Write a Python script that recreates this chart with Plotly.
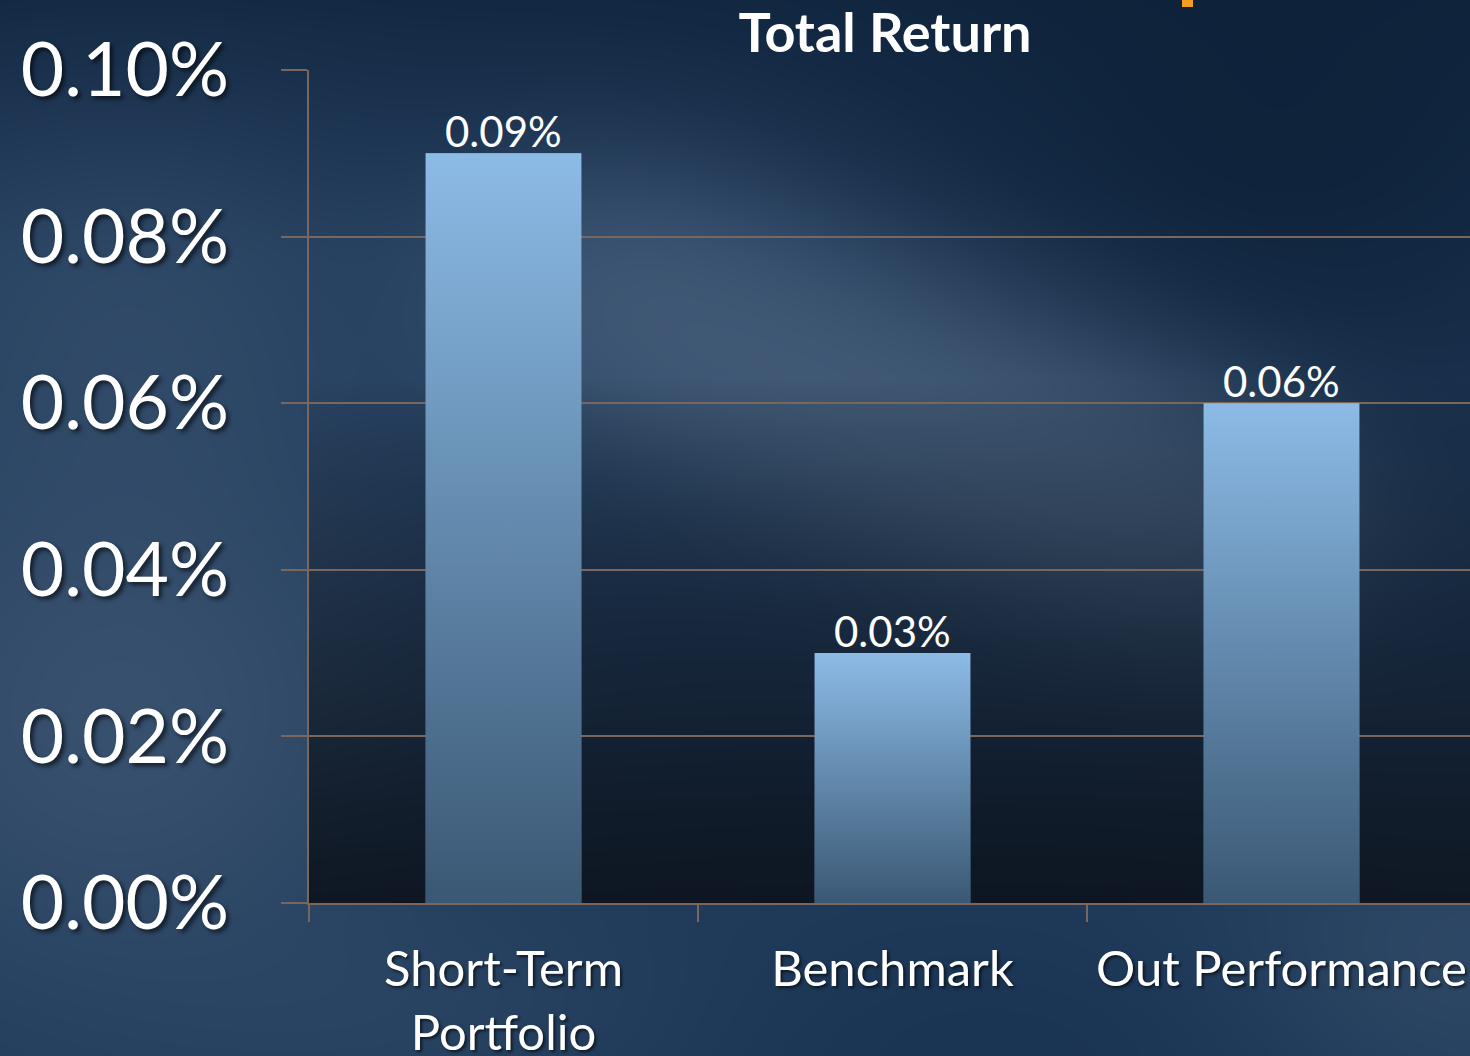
import base64, struct, zlib
import numpy as np
import plotly.graph_objects as go

# ---------------- data ----------------
categories = ["Short-Term<br>Portfolio", "Benchmark", "Out Performance"]
values = [0.09, 0.03, 0.06]          # percent
y_ticks = [0.00, 0.02, 0.04, 0.06, 0.08, 0.10]
y_tick_labels = [f"{v:.2f}%" for v in y_ticks]
title_text = "Total Return"

# ---------------- layout constants ----------------
W, H = 1470, 1056
L, T, B, R = 309, 70, 153, 0
PW, PH = W - L - R, H - T - B
CAT_PX = 389.0                       # pixel width of one category slot
X_RANGE = [-0.5, -0.5 + PW / CAT_PX]
BARGAP = 0.6
HALF_W = (1 - BARGAP) / 2

FONT = "Lato"
GRID = "#7a665c"


# ---------------- background image ----------------
def make_png(arr):
    h, w, _ = arr.shape
    raw = b"".join(b"\x00" + arr[r].tobytes() for r in range(h))

    def chunk(tag, data):
        c = struct.pack(">I", len(data)) + tag + data
        return c + struct.pack(">I", zlib.crc32(tag + data) & 0xFFFFFFFF)

    return (b"\x89PNG\r\n\x1a\n"
            + chunk(b"IHDR", struct.pack(">IIBBBBB", w, h, 8, 2, 0, 0, 0))
            + chunk(b"IDAT", zlib.compress(raw, 9))
            + chunk(b"IEND", b""))


S = 2
w, h = W // S, H // S
X, Y = np.meshgrid((np.arange(w) + 0.5) * S, (np.arange(h) + 0.5) * S)
img = np.zeros((h, w, 3)) + np.array([33, 60, 92], float)


def mix(weight, color):
    global img
    wgt = np.clip(weight, 0, 1)[..., None]
    img = img * (1 - wgt) + np.array(color, float) * wgt


def g(cx, cy, sx, sy):
    return np.exp(-((X - cx) ** 2 / (2 * sx ** 2) + (Y - cy) ** 2 / (2 * sy ** 2)))


dark = (10, 28, 50)
light = (70, 94, 122)
mix(np.clip(1 - Y / 260, 0, 1) * 0.6, dark)
mix(0.7 * g(1280, 180, 320, 220), dark)
for t in np.linspace(0, 1, 9):
    mix(0.5 * g(580 + t * 650, 290 + t * 250, 110, 95), light)
mix(0.6 * g(120, 720, 210, 190), light)
mix(0.35 * g(130, 330, 160, 160), light)
mix(0.45 * g(1000, 1060, 320, 110), (18, 42, 72))
mix(0.35 * g(1460, 960, 160, 110), light)
mix(0.3 * g(420, 1010, 200, 80), (56, 82, 112))

inside = (X >= L) & (Y >= T) & (Y <= H - B)
alpha = np.clip((Y - 380) / (H - B - 380), 0, 1) ** 0.85 * 0.88
mix(np.where(inside, alpha, 0), (11, 17, 26))
bg_src = "data:image/png;base64," + base64.b64encode(
    make_png(np.clip(img, 0, 255).astype(np.uint8))).decode()

# ---------------- figure ----------------
fig = go.Figure()

fig.add_trace(go.Bar(
    x=categories, y=values,
    marker=dict(color="#6a93b8", line=dict(width=0)),
    showlegend=False, hoverinfo="skip",
))

# gradient fill drawn over each bar (same geometry, from the data)
for i, v in enumerate(values):
    fig.add_trace(go.Scatter(
        x=[i - HALF_W, i + HALF_W, i + HALF_W, i - HALF_W, i - HALF_W],
        y=[0, 0, v, v, 0],
        xaxis="x2", mode="lines", line=dict(width=0),
        fill="toself",
        fillgradient=dict(type="vertical",
                          colorscale=[[0, "#3a5874"], [1, "#8cbbe6"]]),
        showlegend=False, hoverinfo="skip",
    ))

annotations = [
    dict(x=c, y=v, xref="x", yref="y", text=f"{v:.2f}%",
         showarrow=False, yanchor="bottom", yshift=-5,
         font=dict(family=FONT, size=42, color="white"))
    for c, v in zip(categories, values)
]

fig.update_layout(
    template="none",
    width=W, height=H,
    margin=dict(l=L, r=R, t=T, b=B, pad=0),
    paper_bgcolor="#1f3a5a",
    plot_bgcolor="rgba(0,0,0,0)",
    bargap=BARGAP,
    showlegend=False,
    font=dict(family=FONT, color="white"),
    title=dict(
        text="<b>" + title_text + "</b>",
        font=dict(family=FONT, size=54, color="white"),
        x=885 / W, xref="container", xanchor="center",
        y=1 - 33 / H, yref="container", yanchor="middle",
    ),
    xaxis=dict(
        type="category", range=X_RANGE, automargin=False,
        showgrid=False, zeroline=False,
        showline=True, linecolor=GRID, linewidth=2,
        ticks="outside", tickson="boundaries", ticklen=17,
        tickcolor=GRID, tickwidth=2,
        tickfont=dict(family=FONT, size=49, color="white",
                      shadow="2px 2px 3px rgba(0,0,0,0.6)"),
        ticklabelstandoff=22,
    ),
    xaxis2=dict(overlaying="x", range=X_RANGE, visible=False,
                showgrid=False, zeroline=False),
    yaxis=dict(
        range=[0, 0.10], automargin=False,
        tickmode="array", tickvals=y_ticks, ticktext=y_tick_labels,
        showgrid=True, gridcolor=GRID, gridwidth=2, zeroline=False,
        showline=True, linecolor=GRID, linewidth=2,
        ticks="outside", ticklen=26, tickcolor=GRID, tickwidth=2,
        tickfont=dict(family=FONT, size=75, color="white",
                      shadow="3px 3px 4px rgba(0,0,0,0.6)"),
        ticklabelstandoff=37,
    ),
    annotations=annotations,
    images=[dict(
        source=bg_src, xref="paper", yref="paper",
        x=-L / PW, y=1 + T / PH, sizex=W / PW, sizey=H / PH,
        xanchor="left", yanchor="top", sizing="stretch", layer="below",
    )],
    shapes=[dict(
        type="rect", xref="paper", yref="paper",
        x0=(1182 - L) / PW, x1=(1193 - L) / PW,
        y0=1 + (T - 7) / PH, y1=1 + T / PH,
        fillcolor="#f0a020", line=dict(width=0),
    )],
)

fig.write_html(
    "out.html",
    config={"displayModeBar": False},
    post_script="document.body.style.margin='0';document.body.style.padding='0';"
                "document.documentElement.style.margin='0';",
)
